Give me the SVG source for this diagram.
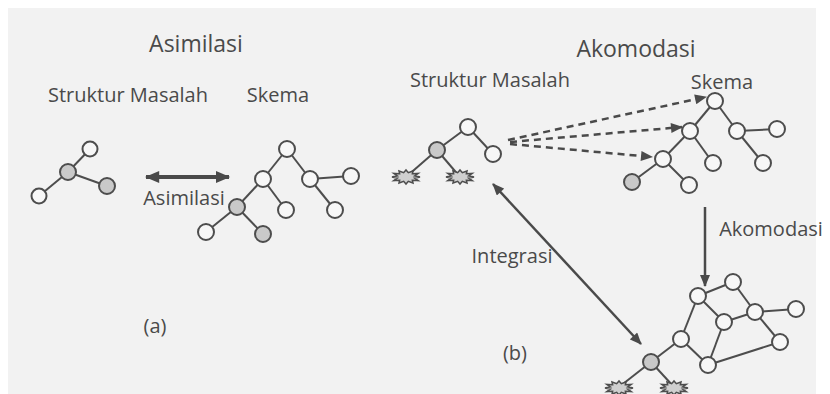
<svg xmlns="http://www.w3.org/2000/svg" width="830" height="394" viewBox="0 0 830 394">
<style>
.bg{fill:#f2f2f2}
.t{font-family:"Open Sans","DejaVu Sans",sans-serif;fill:#4a4a4a;text-anchor:middle}
.title{font-size:23px}
.lbl{font-size:20px}
.n{fill:#f7f7f7;stroke:#4d4d4d;stroke-width:2}
.g{fill:#c9c9c9;stroke:#4d4d4d;stroke-width:2}
.e{stroke:#4d4d4d;stroke-width:2;fill:none}
.a{stroke:#4a4a4a;stroke-width:2.5;fill:none}
.d{stroke:#4a4a4a;stroke-width:2.5;fill:none;stroke-dasharray:7 5}
.b{fill:#cfcfcf;stroke:#4d4d4d;stroke-width:1.5}
</style>
<defs>
<marker id="ah" viewBox="0 0 12 10" refX="11" refY="5" markerWidth="13" markerHeight="10" markerUnits="userSpaceOnUse" orient="auto-start-reverse">
<path d="M0,0 L12,5 L0,10 Z" fill="#4a4a4a"/>
</marker>
<marker id="ahb" viewBox="0 0 12 10" refX="11" refY="5" markerWidth="15" markerHeight="12" markerUnits="userSpaceOnUse" orient="auto-start-reverse">
<path d="M0,0 L12,5 L0,10 Z" fill="#4a4a4a"/>
</marker>
<polygon id="burst" points="14,0 8.69,1.17 12.12,3.5 6.36,3.18 7,6.06 2.33,4.35 0,7 -2.33,4.35 -7,6.06 -6.36,3.18 -12.12,3.5 -8.69,1.17 -14,0 -8.69,-1.17 -12.12,-3.5 -6.36,-3.18 -7,-6.06 -2.33,-4.35 0,-7 2.33,-4.35 7,-6.06 6.36,-3.18 12.12,-3.5 8.69,-1.17"/>
</defs>
<rect width="830" height="394" fill="#ffffff"/>
<rect class="bg" x="8" y="8" width="808" height="386"/>

<g id="labels">
<text class="t title" x="196" y="52">Asimilasi</text>
<text class="t lbl" x="128" y="102">Struktur Masalah</text>
<text class="t lbl" x="278" y="102">Skema</text>
<text class="t lbl" x="184" y="205">Asimilasi</text>
<text class="t lbl" x="155" y="333">(a)</text>
<text class="t title" x="636" y="57">Akomodasi</text>
<text class="t lbl" x="490" y="87">Struktur Masalah</text>
<text class="t lbl" x="722" y="89">Skema</text>
<text class="t lbl" x="771" y="236">Akomodasi</text>
<text class="t lbl" x="512" y="263">Integrasi</text>
<text class="t lbl" x="515" y="360">(b)</text>
</g>

<g id="connectors">
<!-- left structure -->
<line class="e" x1="68" y1="172" x2="90" y2="149"/>
<line class="e" x1="68" y1="172" x2="107" y2="186"/>
<line class="e" x1="68" y1="172" x2="39" y2="196"/>
<!-- left skema -->
<line class="e" x1="287" y1="149" x2="263" y2="179"/>
<line class="e" x1="287" y1="149" x2="310" y2="179"/>
<line class="e" x1="310" y1="179" x2="351" y2="176"/>
<line class="e" x1="310" y1="179" x2="335" y2="210"/>
<line class="e" x1="263" y1="179" x2="286" y2="210"/>
<line class="e" x1="263" y1="179" x2="237" y2="207"/>
<line class="e" x1="237" y1="207" x2="206" y2="232"/>
<line class="e" x1="237" y1="207" x2="263" y2="234"/>
<!-- right structure -->
<line class="e" x1="468" y1="127" x2="437" y2="150"/>
<line class="e" x1="468" y1="127" x2="493" y2="154"/>
<line class="e" x1="437" y1="150" x2="406" y2="177"/>
<line class="e" x1="437" y1="150" x2="460" y2="177"/>
<!-- right skema -->
<line class="e" x1="715" y1="101" x2="690" y2="131"/>
<line class="e" x1="715" y1="101" x2="737" y2="131"/>
<line class="e" x1="737" y1="131" x2="777" y2="129"/>
<line class="e" x1="737" y1="131" x2="763" y2="163"/>
<line class="e" x1="690" y1="131" x2="713" y2="163"/>
<line class="e" x1="690" y1="131" x2="663" y2="159"/>
<line class="e" x1="663" y1="159" x2="632" y2="182"/>
<line class="e" x1="663" y1="159" x2="689" y2="185"/>
<!-- integrated graph -->
<line class="e" x1="698" y1="296" x2="733" y2="282"/>
<line class="e" x1="733" y1="282" x2="755" y2="312"/>
<line class="e" x1="755" y1="312" x2="796" y2="309"/>
<line class="e" x1="755" y1="312" x2="724" y2="322"/>
<line class="e" x1="755" y1="312" x2="780" y2="342"/>
<line class="e" x1="698" y1="296" x2="724" y2="322"/>
<line class="e" x1="698" y1="296" x2="681" y2="339"/>
<line class="e" x1="724" y1="322" x2="708" y2="365"/>
<line class="e" x1="681" y1="339" x2="708" y2="365"/>
<line class="e" x1="780" y1="342" x2="708" y2="365"/>
<line class="e" x1="681" y1="339" x2="651" y2="362"/>
<line class="e" x1="651" y1="362" x2="619" y2="387"/>
<line class="e" x1="651" y1="362" x2="674" y2="387"/>
<!-- arrows -->
<line class="a" x1="146" y1="177" x2="229" y2="177" style="stroke-width:4" marker-start="url(#ahb)" marker-end="url(#ahb)"/>
<line class="a" x1="493" y1="184" x2="641" y2="344" marker-start="url(#ah)" marker-end="url(#ah)"/>
<line class="a" x1="705" y1="207" x2="705" y2="286" marker-end="url(#ah)"/>
<line class="d" x1="508" y1="140" x2="706" y2="97" marker-end="url(#ah)"/>
<line class="d" x1="510" y1="142" x2="682" y2="127" marker-end="url(#ah)"/>
<line class="d" x1="510" y1="144" x2="652" y2="157" marker-end="url(#ah)"/>
</g>

<g id="left-structure">
<circle id="ls-top" class="n" cx="90" cy="149" r="7.5"/>
<circle id="ls-mid" class="g" cx="68" cy="172" r="8"/>
<circle id="ls-right" class="g" cx="107" cy="186" r="8"/>
<circle id="ls-left" class="n" cx="39" cy="196" r="7.5"/>
</g>
<g id="left-skema">
<circle id="lk-root" class="n" cx="287" cy="149" r="8"/>
<circle id="lk-l" class="n" cx="263" cy="179" r="8"/>
<circle id="lk-r" class="n" cx="310" cy="179" r="8"/>
<circle id="lk-rr" class="n" cx="351" cy="176" r="8"/>
<circle id="lk-rl" class="n" cx="335" cy="210" r="8"/>
<circle id="lk-lr" class="n" cx="286" cy="210" r="8"/>
<circle id="lk-g" class="g" cx="237" cy="207" r="8"/>
<circle id="lk-gl" class="n" cx="206" cy="232" r="8"/>
<circle id="lk-gr" class="g" cx="263" cy="234" r="8"/>
</g>
<g id="right-structure">
<circle id="rs-top" class="n" cx="468" cy="127" r="8"/>
<circle id="rs-mid" class="g" cx="437" cy="150" r="8"/>
<circle id="rs-right" class="n" cx="493" cy="154" r="8"/>
<use id="rs-b1" class="b" href="#burst" x="406" y="177"/>
<use id="rs-b2" class="b" href="#burst" x="460" y="177"/>
</g>
<g id="right-skema">
<circle id="rk-root" class="n" cx="715" cy="101" r="8"/>
<circle id="rk-l" class="n" cx="690" cy="131" r="8"/>
<circle id="rk-r" class="n" cx="737" cy="131" r="8"/>
<circle id="rk-rr" class="n" cx="777" cy="129" r="8"/>
<circle id="rk-rl" class="n" cx="763" cy="163" r="8"/>
<circle id="rk-lr" class="n" cx="713" cy="163" r="8"/>
<circle id="rk-ll" class="n" cx="663" cy="159" r="8"/>
<circle id="rk-llg" class="g" cx="632" cy="182" r="8"/>
<circle id="rk-llr" class="n" cx="689" cy="185" r="8"/>
</g>
<g id="integrated">
<circle id="ig-a" class="n" cx="698" cy="296" r="8"/>
<circle id="ig-b" class="n" cx="733" cy="282" r="8"/>
<circle id="ig-c" class="n" cx="755" cy="312" r="8"/>
<circle id="ig-d" class="n" cx="796" cy="309" r="8"/>
<circle id="ig-e" class="n" cx="724" cy="322" r="8"/>
<circle id="ig-f" class="n" cx="681" cy="339" r="8"/>
<circle id="ig-g" class="n" cx="780" cy="342" r="8"/>
<circle id="ig-h" class="n" cx="708" cy="365" r="8"/>
<circle id="ig-i" class="g" cx="651" cy="362" r="8"/>
<use id="ig-b1" class="b" href="#burst" x="619" y="388"/>
<use id="ig-b2" class="b" href="#burst" x="674" y="388"/>
</g>
</svg>
